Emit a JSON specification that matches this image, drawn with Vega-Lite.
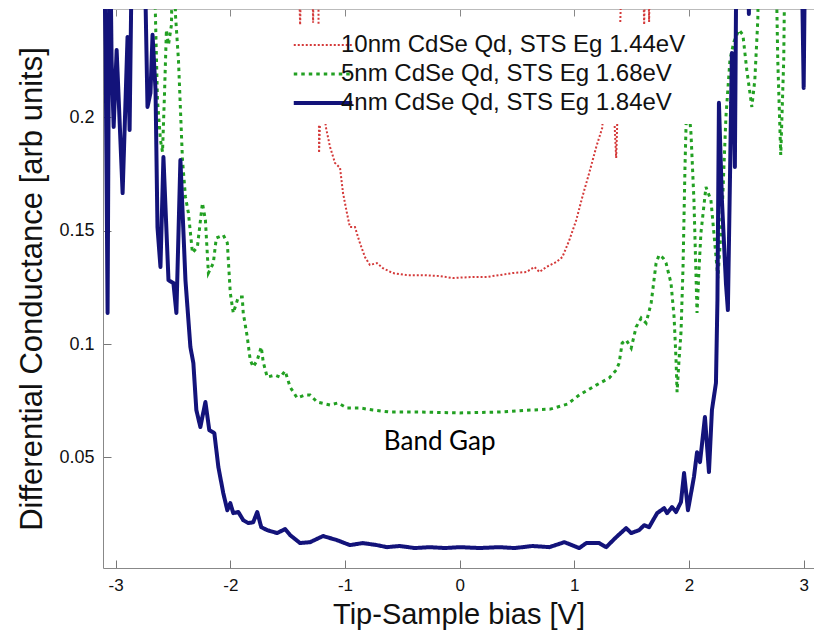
{
  "$schema": "https://vega.github.io/schema/vega-lite/v6.json",
  "width": 711,
  "height": 559,
  "autosize": {"type": "none"},
  "padding": {"left": 103, "top": 9, "right": 0, "bottom": 65},
  "background": "white",
  "config": {"view": {"stroke": null}, "font": "Liberation Sans"},
  "datasets": {
    "red": [
      {"bias": -3.11, "G": 0.3}, {"bias": -1.426, "G": 0.3}, {"bias": -1.391, "G": 0.2408}, {"bias": -1.365, "G": 0.3},
      {"bias": -1.296, "G": 0.3}, {"bias": -1.278, "G": 0.2417}, {"bias": -1.261, "G": 0.3}, {"bias": -1.235, "G": 0.3},
      {"bias": -1.226, "G": 0.1843}, {"bias": -1.209, "G": 0.2121}, {"bias": -1.165, "G": 0.1953}, {"bias": -1.13, "G": 0.1869},
      {"bias": -1.087, "G": 0.1799}, {"bias": -1.043, "G": 0.1777}, {"bias": -1.017, "G": 0.1666}, {"bias": -0.983, "G": 0.1578},
      {"bias": -0.957, "G": 0.1516}, {"bias": -0.913, "G": 0.1516}, {"bias": -0.87, "G": 0.1446}, {"bias": -0.826, "G": 0.1384},
      {"bias": -0.783, "G": 0.1349}, {"bias": -0.722, "G": 0.1357}, {"bias": -0.67, "G": 0.1335}, {"bias": -0.583, "G": 0.1313},
      {"bias": -0.461, "G": 0.1304}, {"bias": -0.322, "G": 0.1304}, {"bias": -0.174, "G": 0.13}, {"bias": -0.061, "G": 0.1291},
      {"bias": 0.113, "G": 0.1296}, {"bias": 0.235, "G": 0.1296}, {"bias": 0.348, "G": 0.1304}, {"bias": 0.461, "G": 0.1313},
      {"bias": 0.583, "G": 0.1318}, {"bias": 0.652, "G": 0.134}, {"bias": 0.696, "G": 0.1318}, {"bias": 0.757, "G": 0.134},
      {"bias": 0.843, "G": 0.1362}, {"bias": 0.896, "G": 0.1384}, {"bias": 0.957, "G": 0.1459}, {"bias": 1.017, "G": 0.1547},
      {"bias": 1.07, "G": 0.1649}, {"bias": 1.13, "G": 0.1755}, {"bias": 1.191, "G": 0.1869}, {"bias": 1.243, "G": 0.1953},
      {"bias": 1.287, "G": 0.2253}, {"bias": 1.339, "G": 0.2099}, {"bias": 1.365, "G": 0.1821}, {"bias": 1.383, "G": 0.2121},
      {"bias": 1.435, "G": 0.3}, {"bias": 1.583, "G": 0.3}, {"bias": 1.609, "G": 0.2408}, {"bias": 1.635, "G": 0.3},
      {"bias": 1.652, "G": 0.2421}, {"bias": 1.67, "G": 0.3}, {"bias": 3.09, "G": 0.3}
    ],
    "green": [
      {"bias": -3.11, "G": 0.3}, {"bias": -2.678, "G": 0.3}, {"bias": -2.652, "G": 0.243}, {"bias": -2.635, "G": 0.2077},
      {"bias": -2.609, "G": 0.19}, {"bias": -2.591, "G": 0.1847}, {"bias": -2.574, "G": 0.2099}, {"bias": -2.557, "G": 0.2386},
      {"bias": -2.539, "G": 0.232}, {"bias": -2.513, "G": 0.2408}, {"bias": -2.496, "G": 0.3}, {"bias": -2.478, "G": 0.2452},
      {"bias": -2.452, "G": 0.2253}, {"bias": -2.417, "G": 0.1812}, {"bias": -2.391, "G": 0.1649}, {"bias": -2.365, "G": 0.1578},
      {"bias": -2.33, "G": 0.1402}, {"bias": -2.287, "G": 0.1428}, {"bias": -2.243, "G": 0.1622}, {"bias": -2.217, "G": 0.1547},
      {"bias": -2.191, "G": 0.1313}, {"bias": -2.148, "G": 0.1357}, {"bias": -2.122, "G": 0.1468}, {"bias": -2.061, "G": 0.1481},
      {"bias": -2.026, "G": 0.1446}, {"bias": -2.0, "G": 0.1225}, {"bias": -1.974, "G": 0.1137}, {"bias": -1.93, "G": 0.1207},
      {"bias": -1.896, "G": 0.1207}, {"bias": -1.887, "G": 0.1137}, {"bias": -1.852, "G": 0.1031}, {"bias": -1.826, "G": 0.0929},
      {"bias": -1.8, "G": 0.0899}, {"bias": -1.765, "G": 0.0929}, {"bias": -1.73, "G": 0.0987}, {"bias": -1.713, "G": 0.0921},
      {"bias": -1.678, "G": 0.0854}, {"bias": -1.609, "G": 0.0863}, {"bias": -1.565, "G": 0.0854}, {"bias": -1.522, "G": 0.0881},
      {"bias": -1.478, "G": 0.081}, {"bias": -1.417, "G": 0.0762}, {"bias": -1.348, "G": 0.0775}, {"bias": -1.304, "G": 0.0775},
      {"bias": -1.243, "G": 0.0744}, {"bias": -1.13, "G": 0.0731}, {"bias": -1.061, "G": 0.074}, {"bias": -0.983, "G": 0.0718},
      {"bias": -0.87, "G": 0.0718}, {"bias": -0.757, "G": 0.0709}, {"bias": -0.609, "G": 0.07}, {"bias": -0.348, "G": 0.07},
      {"bias": 0.0, "G": 0.0696}, {"bias": 0.348, "G": 0.07}, {"bias": 0.635, "G": 0.0709}, {"bias": 0.791, "G": 0.0713},
      {"bias": 0.939, "G": 0.0735}, {"bias": 1.043, "G": 0.0775}, {"bias": 1.191, "G": 0.0819}, {"bias": 1.304, "G": 0.085},
      {"bias": 1.365, "G": 0.0885}, {"bias": 1.391, "G": 0.0916}, {"bias": 1.417, "G": 0.1004}, {"bias": 1.452, "G": 0.1018},
      {"bias": 1.496, "G": 0.0982}, {"bias": 1.539, "G": 0.1075}, {"bias": 1.583, "G": 0.1115}, {"bias": 1.626, "G": 0.1093},
      {"bias": 1.67, "G": 0.1181}, {"bias": 1.713, "G": 0.1357}, {"bias": 1.739, "G": 0.1393}, {"bias": 1.774, "G": 0.138},
      {"bias": 1.8, "G": 0.1357}, {"bias": 1.843, "G": 0.1269}, {"bias": 1.87, "G": 0.1119}, {"bias": 1.887, "G": 0.0929},
      {"bias": 1.896, "G": 0.0788}, {"bias": 1.913, "G": 0.0929}, {"bias": 1.93, "G": 0.1049}, {"bias": 1.948, "G": 0.134},
      {"bias": 1.965, "G": 0.1781}, {"bias": 1.983, "G": 0.2134}, {"bias": 2.0, "G": 0.2033}, {"bias": 2.017, "G": 0.1931},
      {"bias": 2.043, "G": 0.1635}, {"bias": 2.07, "G": 0.1137}, {"bias": 2.087, "G": 0.1327}, {"bias": 2.104, "G": 0.149},
      {"bias": 2.148, "G": 0.1693}, {"bias": 2.191, "G": 0.1635}, {"bias": 2.217, "G": 0.149}, {"bias": 2.252, "G": 0.1291},
      {"bias": 2.287, "G": 0.156}, {"bias": 2.322, "G": 0.2002}, {"bias": 2.357, "G": 0.2253}, {"bias": 2.391, "G": 0.2333},
      {"bias": 2.435, "G": 0.2386}, {"bias": 2.47, "G": 0.2364}, {"bias": 2.504, "G": 0.2209}, {"bias": 2.548, "G": 0.2046},
      {"bias": 2.574, "G": 0.2165}, {"bias": 2.6, "G": 0.243}, {"bias": 2.617, "G": 0.3}, {"bias": 2.748, "G": 0.3},
      {"bias": 2.774, "G": 0.2253}, {"bias": 2.8, "G": 0.1834}, {"bias": 2.826, "G": 0.2253}, {"bias": 2.843, "G": 0.3},
      {"bias": 3.09, "G": 0.3}
    ],
    "navy": [
      {"bias": -3.11, "G": 0.3}, {"bias": -3.087, "G": 0.2297}, {"bias": -3.07, "G": 0.1137}, {"bias": -3.052, "G": 0.3},
      {"bias": -3.035, "G": 0.2253}, {"bias": -3.017, "G": 0.1958}, {"bias": -2.991, "G": 0.2297}, {"bias": -2.939, "G": 0.1666},
      {"bias": -2.896, "G": 0.2355}, {"bias": -2.878, "G": 0.1944}, {"bias": -2.852, "G": 0.3}, {"bias": -2.757, "G": 0.3},
      {"bias": -2.722, "G": 0.2046}, {"bias": -2.696, "G": 0.2108}, {"bias": -2.678, "G": 0.2364}, {"bias": -2.652, "G": 0.2121},
      {"bias": -2.635, "G": 0.1516}, {"bias": -2.609, "G": 0.134}, {"bias": -2.583, "G": 0.1825}, {"bias": -2.539, "G": 0.1282},
      {"bias": -2.496, "G": 0.1269}, {"bias": -2.47, "G": 0.1137}, {"bias": -2.435, "G": 0.1812}, {"bias": -2.391, "G": 0.1282},
      {"bias": -2.348, "G": 0.0987}, {"bias": -2.322, "G": 0.0916}, {"bias": -2.296, "G": 0.0709}, {"bias": -2.261, "G": 0.0634},
      {"bias": -2.217, "G": 0.0744}, {"bias": -2.183, "G": 0.062}, {"bias": -2.139, "G": 0.0607}, {"bias": -2.104, "G": 0.0457},
      {"bias": -2.061, "G": 0.0342}, {"bias": -2.026, "G": 0.0267}, {"bias": -2.0, "G": 0.0298}, {"bias": -1.974, "G": 0.0254},
      {"bias": -1.93, "G": 0.0259}, {"bias": -1.887, "G": 0.0223}, {"bias": -1.843, "G": 0.021}, {"bias": -1.8, "G": 0.0214},
      {"bias": -1.765, "G": 0.0259}, {"bias": -1.73, "G": 0.0192}, {"bias": -1.678, "G": 0.0179}, {"bias": -1.591, "G": 0.0166},
      {"bias": -1.522, "G": 0.0184}, {"bias": -1.478, "G": 0.0157}, {"bias": -1.391, "G": 0.0122}, {"bias": -1.304, "G": 0.0126},
      {"bias": -1.191, "G": 0.0153}, {"bias": -1.07, "G": 0.0135}, {"bias": -0.957, "G": 0.0113}, {"bias": -0.843, "G": 0.0122},
      {"bias": -0.722, "G": 0.0113}, {"bias": -0.635, "G": 0.0104}, {"bias": -0.522, "G": 0.0109}, {"bias": -0.391, "G": 0.01},
      {"bias": -0.261, "G": 0.0104}, {"bias": -0.13, "G": 0.01}, {"bias": 0.0, "G": 0.0104}, {"bias": 0.174, "G": 0.01},
      {"bias": 0.348, "G": 0.0104}, {"bias": 0.478, "G": 0.01}, {"bias": 0.635, "G": 0.0109}, {"bias": 0.783, "G": 0.0104},
      {"bias": 0.913, "G": 0.0126}, {"bias": 1.043, "G": 0.01}, {"bias": 1.104, "G": 0.0122}, {"bias": 1.217, "G": 0.0122},
      {"bias": 1.278, "G": 0.0104}, {"bias": 1.365, "G": 0.0148}, {"bias": 1.452, "G": 0.0188}, {"bias": 1.496, "G": 0.0166},
      {"bias": 1.565, "G": 0.0179}, {"bias": 1.609, "G": 0.0201}, {"bias": 1.652, "G": 0.0192}, {"bias": 1.722, "G": 0.0254},
      {"bias": 1.783, "G": 0.0276}, {"bias": 1.809, "G": 0.0254}, {"bias": 1.852, "G": 0.0281}, {"bias": 1.887, "G": 0.0259},
      {"bias": 1.93, "G": 0.0303}, {"bias": 1.957, "G": 0.0431}, {"bias": 1.991, "G": 0.0267}, {"bias": 2.043, "G": 0.0413},
      {"bias": 2.07, "G": 0.0523}, {"bias": 2.096, "G": 0.0479}, {"bias": 2.139, "G": 0.0678}, {"bias": 2.174, "G": 0.0435},
      {"bias": 2.2, "G": 0.0709}, {"bias": 2.235, "G": 0.0828}, {"bias": 2.248, "G": 0.1194}, {"bias": 2.261, "G": 0.2064},
      {"bias": 2.287, "G": 0.1635}, {"bias": 2.322, "G": 0.1269}, {"bias": 2.339, "G": 0.115}, {"bias": 2.357, "G": 0.1724},
      {"bias": 2.374, "G": 0.2284}, {"bias": 2.391, "G": 0.2077}, {"bias": 2.4, "G": 0.1781}, {"bias": 2.417, "G": 0.3},
      {"bias": 2.513, "G": 0.3}, {"bias": 2.522, "G": 0.2456}, {"bias": 2.53, "G": 0.3}, {"bias": 2.974, "G": 0.3},
      {"bias": 3.0, "G": 0.213}, {"bias": 3.017, "G": 0.3}, {"bias": 3.09, "G": 0.3}
    ],
    "notes": [{"bias": -0.174, "G": 0.0531, "label": "Band Gap"}]
  },
  "layer": [
    {
      "data": {"name": "red"},
      "mark": {"type": "line", "clip": true, "strokeCap": "butt"},
      "encoding": {
        "x": {"field": "bias", "type": "quantitative",
          "scale": {"domain": [-3.11, 3.09], "nice": false, "zero": false},
          "axis": {"orient": "bottom", "values": [-3, -2, -1, 0, 1, 2, 3], "labelExpr": "'' + datum.value",
            "tickSize": -8, "tickColor": "#777", "domainColor": "#888", "grid": false,
            "labelFontSize": 17, "labelColor": "#111", "labelPadding": 17,
            "title": "Tip-Sample bias [V]", "titleFontSize": 29, "titleFontWeight": "normal", "titleColor": "#111",
            "titleY": 55, "titleBaseline": "alphabetic"}},
        "y": {"field": "G", "type": "quantitative",
          "scale": {"domain": [0.0012, 0.2478], "nice": false, "zero": false},
          "axis": {"values": [0.05, 0.1, 0.15, 0.2], "labelExpr": "'' + datum.value",
            "tickSize": -8, "tickColor": "#777", "domainColor": "#888", "grid": false,
            "labelFontSize": 18, "labelColor": "#111", "labelPadding": 17,
            "title": "Differential Conductance [arb units]", "titleFontSize": 31, "titleFontWeight": "normal", "titleColor": "#111", "titlePadding": 10}},
        "color": {"datum": "10nm CdSe Qd, STS Eg 1.44eV", "type": "nominal",
          "scale": {"domain": ["10nm CdSe Qd, STS Eg 1.44eV", "5nm CdSe Qd, STS Eg 1.68eV", "4nm CdSe Qd, STS Eg 1.84eV"], "range": ["#d43a3a", "#22a022", "#13137a"]},
          "legend": {"title": null, "orient": "none", "legendX": 199, "legendY": 15, "fillColor": "white", "padding": 9, "labelLimit": 0,
            "labelFontSize": 24, "labelColor": "#111", "labelOffset": 6, "symbolType": "M-3,0H3", "symbolSize": 380, "rowPadding": 5}},
        "strokeDash": {"datum": "10nm CdSe Qd, STS Eg 1.44eV", "type": "nominal",
          "scale": {"domain": ["10nm CdSe Qd, STS Eg 1.44eV", "5nm CdSe Qd, STS Eg 1.68eV", "4nm CdSe Qd, STS Eg 1.84eV"], "range": [[2, 2], [3.5, 4], [1, 0]]},
          "legend": {"title": null, "orient": "none", "legendX": 199, "legendY": 15, "fillColor": "white", "padding": 9, "labelLimit": 0,
            "labelFontSize": 24, "labelColor": "#111", "labelOffset": 6, "symbolType": "M-3,0H3", "symbolSize": 380, "rowPadding": 5}},
        "strokeWidth": {"datum": "10nm CdSe Qd, STS Eg 1.44eV", "type": "nominal",
          "scale": {"domain": ["10nm CdSe Qd, STS Eg 1.44eV", "5nm CdSe Qd, STS Eg 1.68eV", "4nm CdSe Qd, STS Eg 1.84eV"], "range": [2, 4, 3.5]},
          "legend": {"title": null, "orient": "none", "legendX": 199, "legendY": 15, "fillColor": "white", "padding": 9, "labelLimit": 0,
            "labelFontSize": 24, "labelColor": "#111", "labelOffset": 6, "symbolType": "M-3,0H3", "symbolSize": 380, "rowPadding": 5}}
      }
    },
    {
      "data": {"name": "green"},
      "mark": {"type": "line", "clip": true, "strokeCap": "butt"},
      "encoding": {
        "x": {"field": "bias", "type": "quantitative", "axis": null},
        "y": {"field": "G", "type": "quantitative"},
        "color": {"datum": "5nm CdSe Qd, STS Eg 1.68eV", "type": "nominal"},
        "strokeDash": {"datum": "5nm CdSe Qd, STS Eg 1.68eV", "type": "nominal"},
        "strokeWidth": {"datum": "5nm CdSe Qd, STS Eg 1.68eV", "type": "nominal"}
      }
    },
    {
      "data": {"name": "navy"},
      "mark": {"type": "line", "clip": true, "strokeJoin": "round"},
      "encoding": {
        "x": {"field": "bias", "type": "quantitative", "axis": null},
        "y": {"field": "G", "type": "quantitative"},
        "color": {"datum": "4nm CdSe Qd, STS Eg 1.84eV", "type": "nominal"},
        "strokeDash": {"datum": "4nm CdSe Qd, STS Eg 1.84eV", "type": "nominal"},
        "strokeWidth": {"datum": "4nm CdSe Qd, STS Eg 1.84eV", "type": "nominal"}
      }
    },
    {
      "data": {"name": "notes"},
      "mark": {"type": "text", "font": "Lato", "fontSize": 26, "align": "center", "baseline": "alphabetic", "color": "#000"},
      "encoding": {
        "x": {"field": "bias", "type": "quantitative",
          "axis": {"orient": "top", "values": [-3, -2, -1, 0, 1, 2, 3], "labels": false, "title": null,
            "tickSize": -7, "tickColor": "#888", "domainColor": "#bbb", "grid": false}},
        "y": {"field": "G", "type": "quantitative"},
        "text": {"field": "label"}
      }
    }
  ],
  "resolve": {"axis": {"x": "independent"}}
}
